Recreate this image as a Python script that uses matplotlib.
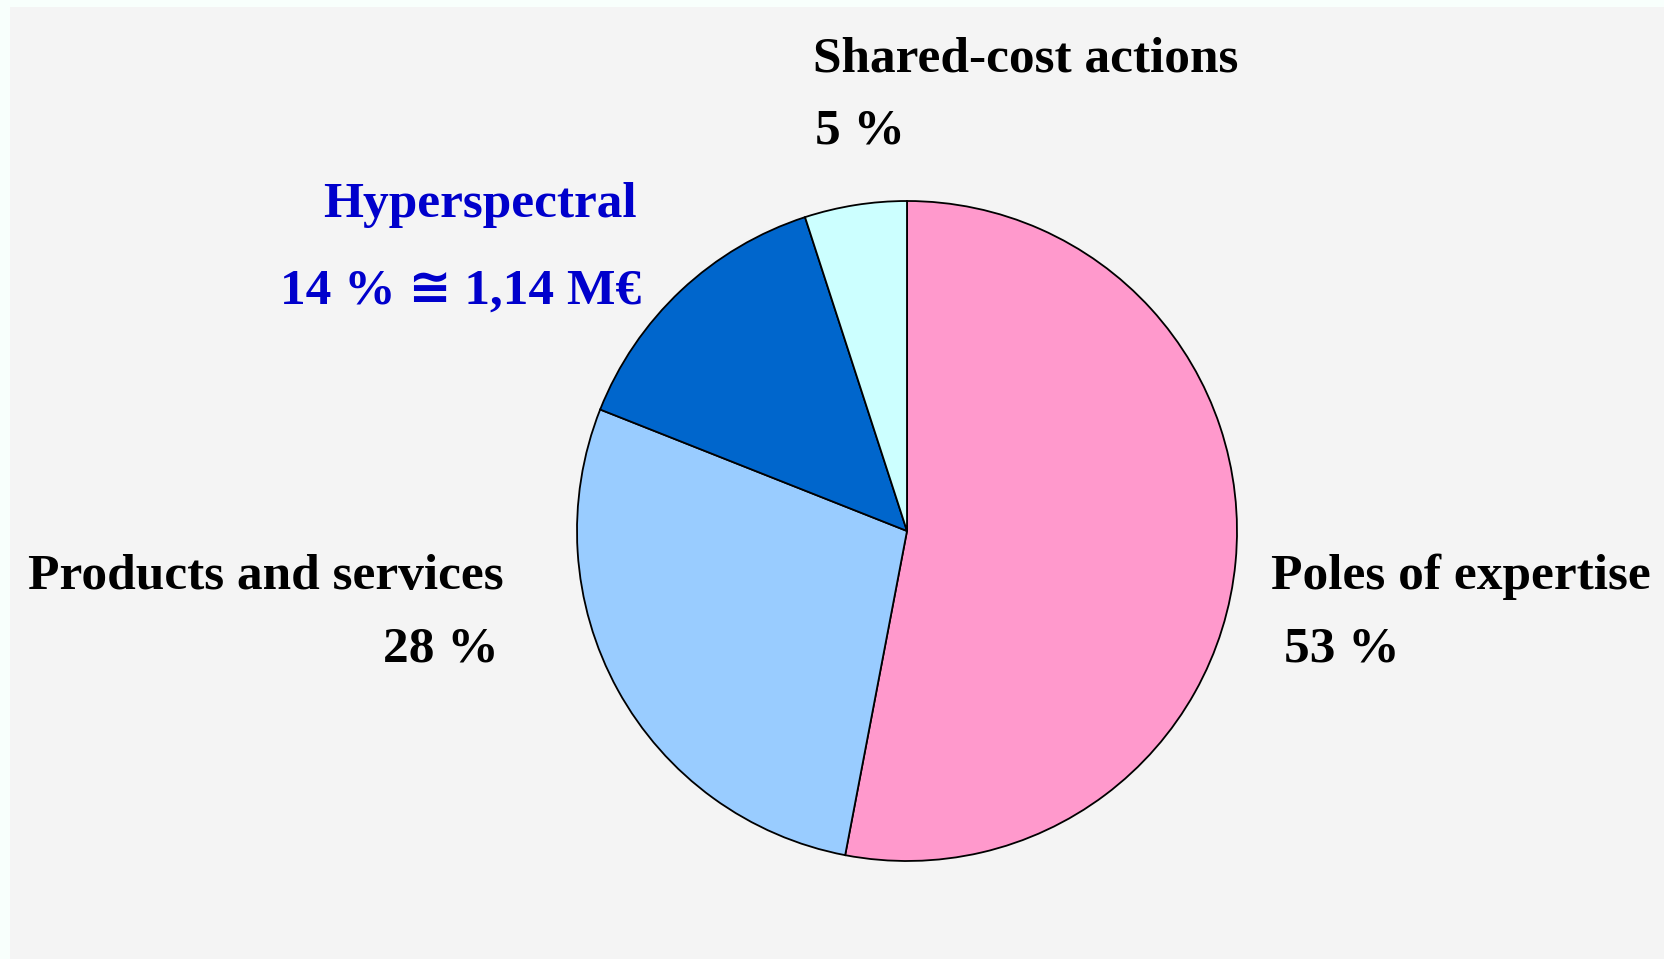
import matplotlib
matplotlib.use("Agg")
import matplotlib.pyplot as plt

labels = ["Poles of expertise", "Products and services", "Hyperspectral", "Shared-cost actions"]
shares = [53, 28, 14, 5]
colors = ["#ff99cc", "#99ccff", "#0066cc", "#ccffff"]
value_texts = ["53 %", "28 %", "14 % \u2245 1,14 M\u20ac", "5 %"]
text_colors = ["black", "black", "#0000cc", "black"]

W, H = 1664, 959
fig = plt.figure(figsize=(W / 100, H / 100), dpi=100)
fig.patch.set_facecolor("#f8fffc")
ax = fig.add_axes([0, 0, 1, 1])

# grey panel
ax.add_patch(plt.Rectangle((10, 7), W - 10, H - 7, facecolor="#f4f4f4", edgecolor="none", zorder=0))

# y axis is flipped below, so angles run the other way in data space
ax.pie(shares, colors=colors, startangle=-90, counterclock=True,
       center=(907, 531), radius=330,
       wedgeprops=dict(edgecolor="black", linewidth=1.3))
ax.set_xlim(0, W)
ax.set_ylim(H, 0)
ax.set_aspect("auto")
ax.axis("off")

fam = ["Liberation Serif", "DejaVu Sans"]
fs = 37
# label positions (pixels): (x_name, x_value, y_name, y_value, ha)
pos = [
    (1271, 1284, 577, 649, "left"),
    (504, 499, 577, 649, "right"),
    (637, 641, 205, 292, "right"),
    (813, 815, 59, 132, "left"),
]
for (xn, xv, yn, yv, ha), lab, val, c in zip(pos, labels, value_texts, text_colors):
    ax.text(xn, yn, lab, ha=ha, va="center", fontsize=fs, fontweight="bold",
            family=fam, color=c)
    ax.text(xv, yv, val, ha=ha, va="center", fontsize=fs, fontweight="bold",
            family=fam, color=c)

fig.savefig("out.png", dpi=100, facecolor=fig.get_facecolor())
